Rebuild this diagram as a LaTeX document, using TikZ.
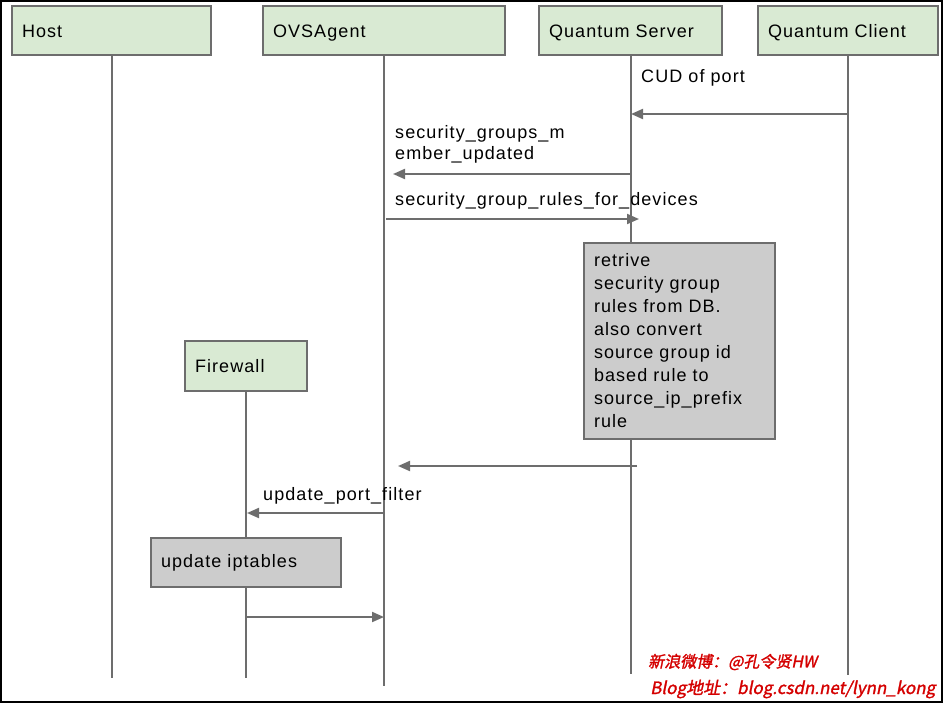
\documentclass[tikz,border=0pt]{standalone}
\usepackage{fontspec}
\setmainfont{Liberation Sans}[LetterSpace=6]
\newfontfamily\cjkfont{Noto Sans CJK SC}[FakeSlant=0.2, FakeBold=1.5]
\usetikzlibrary{arrows.meta}

\definecolor{actorfill}{HTML}{D9EAD3}
\definecolor{seqgray}{HTML}{6D6D6D}
\definecolor{notefill}{HTML}{CCCCCC}
\definecolor{markred}{HTML}{D40000}

\tikzset{
  actor/.style={draw=seqgray, line width=2pt, fill=actorfill, anchor=north west,
    text width=#1, minimum height=49pt, inner xsep=10pt, align=left,
    text height=15pt, text depth=2pt,
    font=\fontsize{18}{23}\selectfont},
  note/.style={draw=seqgray, line width=2pt, fill=notefill, anchor=north west,
    text width=#1, inner xsep=10pt, align=left,
    font=\fontsize{18}{23}\selectfont},
  lifeline/.style={draw=seqgray, line width=2pt},
  msg/.style={draw=seqgray, line width=2pt, -{Triangle[length=12pt,width=10pt]}},
  msglabel/.style={anchor=west, inner sep=0pt, align=left,
    font=\fontsize{18}{21}\selectfont},
  watermark/.style={anchor=west, inner sep=0pt, text=markred}
}

\begin{document}
\begin{tikzpicture}[x=1pt, y=-1pt]
  \useasboundingbox (0,0) rectangle (944,704);
  \draw[line width=2pt] (1,1) rectangle (942,702);

  % participants
  \node[actor=179pt] (host)   at (11,5)  {Host};
  \node[actor=222pt] (ovs)    at (262,5) {OVSAgent};
  \node[actor=163pt] (server) at (538,5) {Quantum Server};
  \node[actor=160pt] (client) at (757,5) {Quantum Client};
  \node[actor=102pt, minimum height=50pt] (firewall) at (184,340) {Firewall};

  \foreach \who/\bot in {host/678, ovs/686, server/674, client/675, firewall/678}{
    \coordinate (\who-end) at (\who.south |- 0,\bot);
    \draw[lifeline] (\who.south) -- (\who-end);
  }

  % messages
  \coordinate (cud-from) at (client.south |- 0,114);
  \coordinate (cud-to)   at (631,114);
  \draw[msg] (cud-from) -- (cud-to);
  \node[msglabel] (cud) at (641,78) {CUD of port};

  \coordinate (sgm-from) at (server.south |- 0,174);
  \coordinate (sgm-to)   at (393,174);
  \draw[msg] (sgm-from) -- (sgm-to);
  \node[msglabel] (sgm) at (395,144) {security\_groups\_m\\ember\_updated};

  \coordinate (rules-from) at (386,219);
  \coordinate (rules-to)   at (639,219);
  \draw[msg] (rules-from) -- (rules-to);
  \node[msglabel] (rules) at (395,201) {security\_group\_rules\_for\_devices};

  \node[note=171pt, minimum height=196pt] (retrive) at (583,242)
    {retrive\\security group\\rules from DB.\\also convert\\source group id\\based rule to\\source\_ip\_prefix\\rule};

  \coordinate (back-from) at (637,466);
  \coordinate (back-to)   at (398,466);
  \draw[msg] (back-from) -- (back-to);

  \coordinate (upf-from) at (ovs.south |- 0,513);
  \coordinate (upf-to)   at (247,513);
  \draw[msg] (upf-from) -- (upf-to);
  \node[msglabel] (upf) at (263,496) {update\_port\_filter};

  \node[note=170pt, minimum height=49pt] (iptables) at (150,537) {update iptables};

  \coordinate (done-from) at (firewall.south |- 0,617);
  \coordinate (done-to)   at (ovs.south |- 0,617);
  \draw[msg] (done-from) -- (done-to);

  % watermark
  \node[watermark, font=\cjkfont\fontsize{16}{16}\selectfont]
    (weibo) at (648,662) {新浪微博：@孔令贤HW};
  \node[watermark, font=\cjkfont\fontsize{17}{17}\selectfont]
    (blogline) at (650,689) {Blog地址：blog.csdn.net/lynn\_kong};
\end{tikzpicture}
\end{document}
